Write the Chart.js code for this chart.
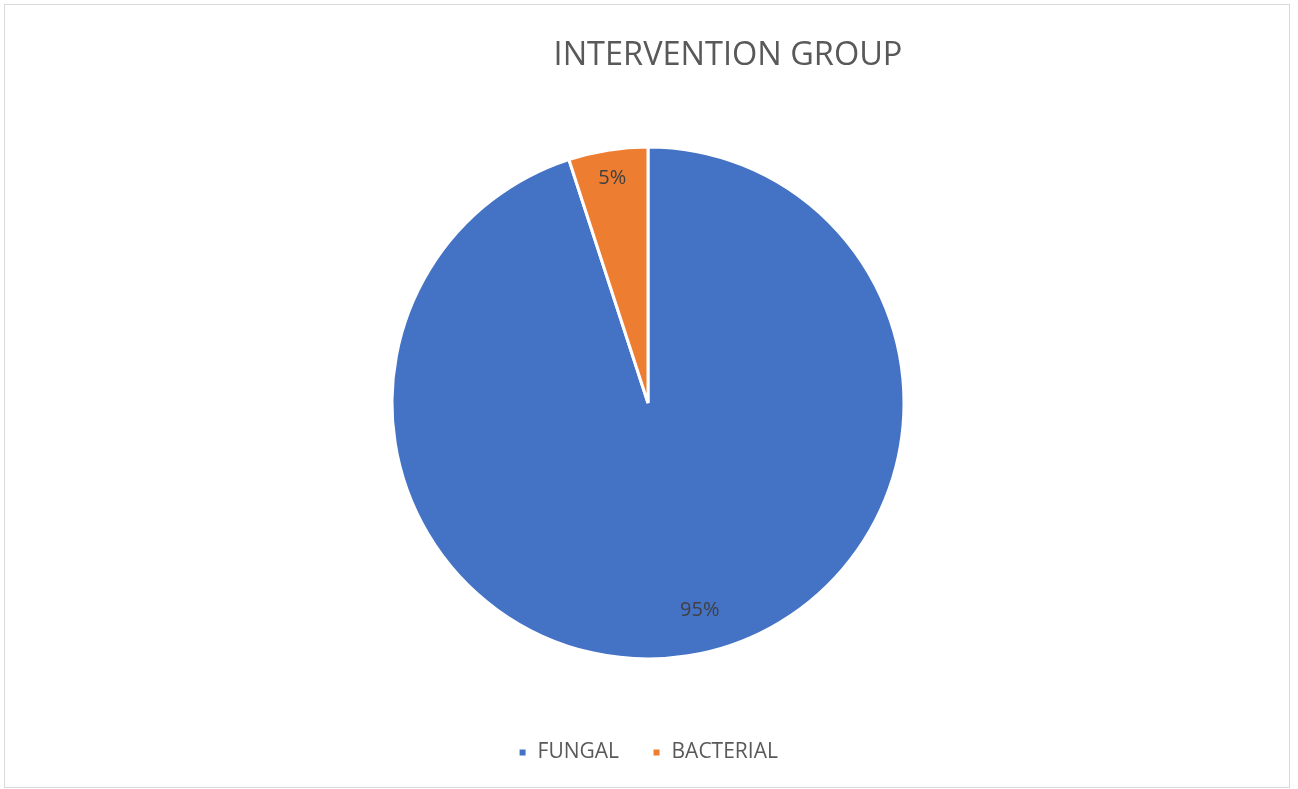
<!DOCTYPE html>
<html>
<head>
<meta charset="utf-8">
<script src="https://cdn.jsdelivr.net/npm/chart.js@4.4.0/dist/chart.umd.min.js"></script>
<style>
  html, body { margin: 0; padding: 0; background: #fff; }
  #wrap { position: absolute; left: 4px; top: 4px; width: 1286px; height: 784px; border: 1px solid #d9d9d9; box-sizing: border-box; }
  canvas { position: absolute; left: 0; top: 0; }
</style>
</head>
<body>
<div id="wrap"><canvas id="pieChart" width="1284" height="782"></canvas></div>
<script>
const chartTitle = 'INTERVENTION GROUP';
const categories = ['FUNGAL', 'BACTERIAL'];
const shares = [95, 5];
const sliceColors = ['#4472c4', '#ed7d31'];

const textColor = '#595959';
const fontFamily = "'Open Sans', 'Noto Sans', sans-serif";

// title sits right of centre, like the original
const titlePlugin = {
    id: 'offsetTitle',
    afterDraw(chart) {
        const ctx = chart.ctx;
        ctx.save();
        ctx.fillStyle = textColor;
        ctx.font = '32.5px ' + fontFamily;
        ctx.textAlign = 'center';
        ctx.textBaseline = 'middle';
        ctx.fillText(chartTitle, 723, 51);
        ctx.restore();
    }
};

// percentage labels inside the slices (Excel-ish placement)
const labelPlugin = {
    id: 'sliceLabels',
    afterDatasetsDraw(chart) {
        const ctx = chart.ctx;
        const meta = chart.getDatasetMeta(0);
        const dist = [0.835, 0.89];
        const turn = [-5, 0];
        ctx.save();
        ctx.fillStyle = '#404040';
        ctx.font = '20px ' + fontFamily;
        ctx.textAlign = 'center';
        ctx.textBaseline = 'middle';
        meta.data.forEach((arc, i) => {
            const p = arc.getProps(['x', 'y', 'startAngle', 'endAngle', 'outerRadius'], true);
            const mid = (p.startAngle + p.endAngle) / 2 + turn[i] * Math.PI / 180;
            const r = p.outerRadius * dist[i];
            ctx.fillText(shares[i] + '%', p.x + Math.cos(mid) * r, p.y + Math.sin(mid) * r);
        });
        ctx.restore();
    }
};

new Chart(document.getElementById('pieChart').getContext('2d'), {
    type: 'pie',
    data: {
        labels: categories,
        datasets: [{
            data: shares,
            backgroundColor: sliceColors,
            borderColor: '#ffffff',
            borderWidth: 3,
            radius: 256
        }]
    },
    options: {
        responsive: false,
        animation: false,
        layout: { padding: { top: 92, bottom: 14, left: 2, right: 0 } },
        plugins: {
            title: { display: false },
            tooltip: { enabled: false },
            legend: {
                position: 'bottom',
                labels: {
                    color: textColor,
                    font: { size: 21, family: fontFamily },
                    boxWidth: 9,
                    boxHeight: 9,
                    padding: 33
                }
            }
        }
    },
    plugins: [titlePlugin, labelPlugin]
});
</script>
</body>
</html>
